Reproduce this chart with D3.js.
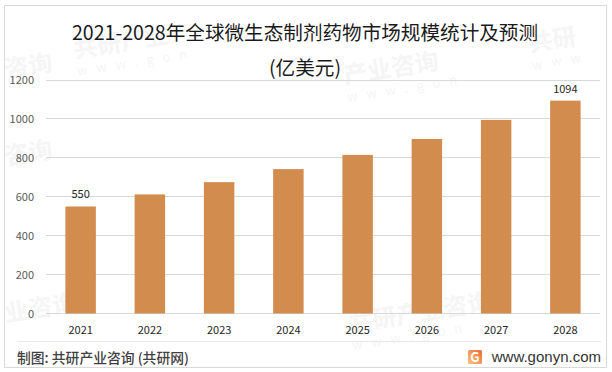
<!DOCTYPE html>
<html><head><meta charset="utf-8">
<script src="https://cdnjs.cloudflare.com/ajax/libs/d3/7.8.5/d3.min.js"></script>
<style>html,body{margin:0;padding:0;background:#fff}svg{display:block}
text{font-family:"Noto Sans CJK SC","Noto Sans",sans-serif}</style>
</head><body><svg id="c" width="612" height="372"></svg>
<script>
const years=["2021","2022","2023","2024","2025","2026","2027","2028"];
const values=[550,612,675,742,815,897,995,1094];
const labelled=["2021","2028"];
const yTicks=[0,200,400,600,800,1000,1200];
const titleLines=["2021-2028年全球微生态制剂药物市场规模统计及预测","(亿美元)"];
const source="制图: 共研产业咨询 (共研网)";
const site="www.gonyn.com";
const marks=[["共研产业",75,58,"www.gon"],["产业咨询",345,84,"www.gon"],["共研",530,52,"www"],["咨询",6,78,""],["咨询",6,165,""],["业咨询",6,322,""],["共研产业咨询",350,332,"www.gon"]];

const svg=d3.select("#c");
svg.append("rect").attr("x",4.5).attr("y",5.5).attr("width",602).attr("height",362)
  .attr("fill","#fff").attr("stroke","#d9d9d9").attr("stroke-width",1);

// watermarks
const wm=svg.append("g");
marks.forEach(([t,x,y,s])=>{
  const g=wm.append("g").attr("transform",`translate(${x},${y}) rotate(-9)`);
  g.append("text").attr("font-size",24).attr("font-weight",700).attr("fill","#f5f5f5").text(t);
  if(s) g.append("text").attr("y",18).attr("font-size",13).attr("letter-spacing",9).attr("fill","#f5f5f5").text(s);
});

const x=d3.scaleBand().domain(years).range([46,600]).paddingInner(0.56).paddingOuter(0.28);
const y=d3.scaleLinear().domain([0,1200]).range([313.5,80]);

svg.append("g").selectAll("line").data(yTicks).join("line")
  .attr("x1",46).attr("x2",600).attr("y1",d=>Math.round(y(d)-0.5)+0.5).attr("y2",d=>Math.round(y(d)-0.5)+0.5)
  .attr("stroke","#d9d9d9").attr("stroke-width",1);

svg.append("g").selectAll("rect").data(values).join("rect")
  .attr("x",(d,i)=>x(years[i])).attr("width",x.bandwidth())
  .attr("y",d=>y(d)).attr("height",d=>y(0)-y(d)).attr("fill","#d28c4e");

const axisY=d3.axisLeft(y).tickValues(yTicks).tickFormat(d3.format("d")).tickSize(0).tickPadding(12);
const gy=svg.append("g").attr("transform","translate(46,0)").call(axisY);
gy.select(".domain").remove();
gy.selectAll("text").attr("font-size",11).attr("fill","#595959");

const axisX=d3.axisBottom(x).tickSize(0).tickPadding(13);
const gx=svg.append("g").attr("transform","translate(0,313.5)").call(axisX);
gx.select(".domain").remove();
gx.selectAll("text").attr("font-size",11).attr("fill","#262626");

svg.append("g").selectAll("text").data(years.filter(d=>labelled.includes(d))).join("text")
  .attr("x",d=>x(d)+x.bandwidth()/2).attr("y",d=>y(values[years.indexOf(d)])-8)
  .attr("text-anchor","middle").attr("font-size",11).attr("fill","#262626")
  .text(d=>values[years.indexOf(d)]);

svg.append("g").selectAll("text").data(titleLines).join("text")
  .attr("x",305).attr("y",(d,i)=>39.5+i*35).attr("text-anchor","middle")
  .attr("font-size",19.6).attr("fill","#1a1a1a").text(d=>d);

svg.append("line").attr("x1",17).attr("x2",601).attr("y1",341.5).attr("y2",341.5)
  .attr("stroke","#e8e8e8");
svg.append("text").attr("x",17).attr("y",363).attr("font-size",13.8).attr("font-weight",500)
  .attr("fill","#404040").text(source);

const logo=svg.append("g").attr("transform","translate(468,350)");
const grad=svg.append("defs").append("linearGradient").attr("id","lg").attr("x1",0).attr("x2",1).attr("y1",1).attr("y2",0);
grad.append("stop").attr("offset",0).attr("stop-color","#f9c37a");
grad.append("stop").attr("offset",1).attr("stop-color","#ee6a3a");
logo.append("rect").attr("width",14).attr("height",14).attr("rx",1.5).attr("fill","url(#lg)");
logo.append("text").attr("x",7).attr("y",12).attr("text-anchor","middle").attr("font-size",13).attr("font-weight",700).attr("fill","#fff").text("G");
svg.append("text").attr("x",601).attr("y",362).attr("text-anchor","end").attr("font-size",15)
  .attr("style",'font-family:"Liberation Sans",sans-serif').attr("fill","#333").text(site);
</script></body></html>
